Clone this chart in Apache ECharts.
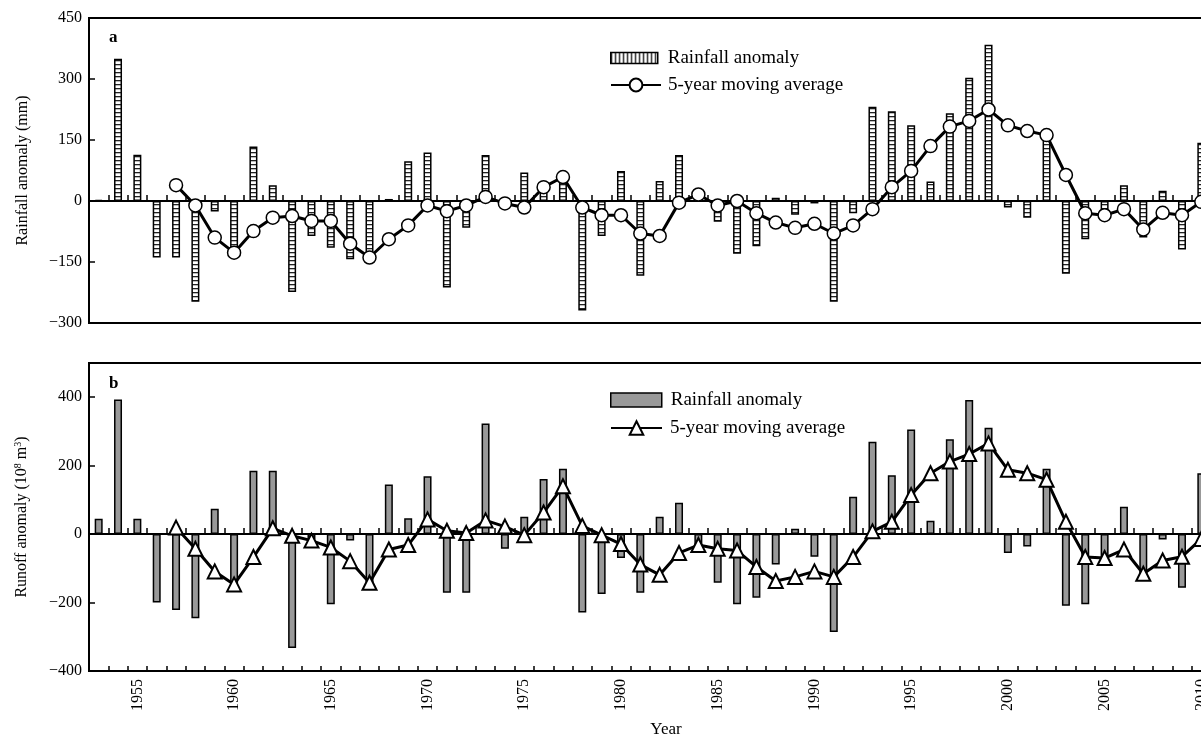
<!DOCTYPE html>
<html>
<head>
<meta charset="utf-8">
<script src="https://cdn.jsdelivr.net/npm/echarts@6/dist/echarts.min.js"></script>
<style>
html,body{margin:0;padding:0;background:#fff;}
#chart{width:1201px;height:736px;}
</style>
</head>
<body>
<div id="chart"></div>
<script>
var years = [1953,1954,1955,1956,1957,1958,1959,1960,1961,1962,1963,1964,1965,1966,1967,1968,1969,1970,1971,1972,1973,1974,1975,1976,1977,1978,1979,1980,1981,1982,1983,1984,1985,1986,1987,1988,1989,1990,1991,1992,1993,1994,1995,1996,1997,1998,1999,2000,2001,2002,2003,2004,2005,2006,2007,2008,2009,2010];

var rainfall = [3,350,114,-139,-139,-248,-26,-128,134,39,-224,-86,-115,-143,-143,5,98,119,-213,-66,113,5,70,25,74,-269,-86,74,-184,49,113,10,-51,-130,-111,8,-34,-6,-248,-30,232,221,186,48,216,303,384,-16,-41,156,-179,-94,-30,39,-90,25,-119,143];

var rainMA = [null,null,null,null,39,-11,-90,-127,-74,-41,-37,-49,-49,-105,-139,-94,-60,-11,-25,-11,10,-6,-16,34,59,-16,-35,-35,-80,-86,-4,16,-11,0,-30,-53,-66,-56,-80,-60,-20,34,74,135,183,197,225,186,172,162,64,-30,-35,-20,-70,-29,-35,-2];

var runoff = [45,393,45,-200,-222,-246,74,-145,185,185,-333,-15,-205,-19,-140,145,46,169,-171,-171,323,-43,51,161,191,-229,-175,-70,-171,51,92,-32,-142,-205,-186,-89,16,-66,-286,109,270,172,306,39,277,392,311,-55,-36,191,-209,-205,-70,80,-135,-16,-157,178];

var runoffMA = [null,null,null,null,19,-43,-109,-147,-67,17,-5,-19,-39,-79,-142,-45,-32,43,10,3,40,22,-3,63,140,24,-3,-29,-89,-119,-55,-32,-43,-48,-96,-137,-125,-109,-125,-67,8,36,114,178,212,234,265,188,178,159,36,-67,-70,-45,-116,-77,-66,-14];

var rainTicks = [-300,-150,0,150,300,450];
var runoffTicks = [-400,-200,0,200,400];

function makePattern(vertical){
  var c = document.createElement('canvas');
  c.width = 4; c.height = 4;
  var g = c.getContext('2d');
  g.fillStyle = '#fff'; g.fillRect(0,0,4,4);
  g.fillStyle = '#222';
  if (vertical) g.fillRect(0,0,1.4,4); else g.fillRect(0,0,4,1.3);
  return {image: c, repeat: 'repeat'};
}
var hPattern = makePattern(false);
var vPattern = makePattern(true);

var FONT = '"Liberation Serif","Times New Roman",serif';
function fmt(v){ return String(v).replace('-', '\u2212'); }

var chart = echarts.init(document.getElementById('chart'), null, {renderer:'canvas'});

var gridLeft = 89, gridWidth = 1122;

var catBase = {
  type: 'category',
  data: years,
  boundaryGap: true,
  axisLine: {onZero: true, lineStyle: {color:'#000', width: 2}},
  axisTick: {show: true, inside: true, length: 6, interval: 0, lineStyle:{color:'#000', width:1.5}},
  axisLabel: {show: false},
  splitLine: {show: false}
};

var legText = {fontFamily: FONT, fontSize: 19, color:'#000', lineHeight: 20};

var option = {
  backgroundColor: '#fff',
  animation: false,
  textStyle: {fontFamily: FONT, color:'#000'},
  title: [
    {text: 'a', left: 104, top: 24, textStyle:{fontFamily: FONT, fontWeight:'bold', fontSize:17, color:'#000'}},
    {text: 'b', left: 104, top: 370, textStyle:{fontFamily: FONT, fontWeight:'bold', fontSize:17, color:'#000'}}
  ],
  grid: [
    {left: gridLeft, top: 18, width: gridWidth, height: 305, show: true, borderColor:'#000', borderWidth: 2, backgroundColor:'transparent', containLabel: false, outerBoundsMode: 'none'},
    {left: gridLeft, top: 363, width: gridWidth, height: 308, show: true, borderColor:'#000', borderWidth: 2, backgroundColor:'transparent', containLabel: false, outerBoundsMode: 'none'}
  ],
  legend: [
    {data:[{name:'Rainfall anomaly', icon:'rect', itemStyle:{color: vPattern, borderColor:'#000', borderWidth:1.5}}],
     left: 605, top: 43, orient:'vertical', itemWidth: 47, itemHeight: 11,
     textStyle: Object.assign({padding:[0,0,0,5]}, legText)},
    {data:['5-year moving average '],
     left: 605, top: 70, orient:'vertical', itemWidth: 50, itemHeight: 16,
     textStyle: Object.assign({padding:[0,0,0,2]}, legText)},
    {data:[{name:'Rainfall anomaly ', icon:'rect', itemStyle:{color:'#999999', borderColor:'#000', borderWidth:1.5}}],
     left: 605, top: 385, orient:'vertical', itemWidth: 51, itemHeight: 14,
     textStyle: Object.assign({padding:[0,0,0,4]}, legText)},
    {data:['5-year moving average'],
     left: 605, top: 413, orient:'vertical', itemWidth: 51, itemHeight: 17,
     textStyle: Object.assign({padding:[0,0,0,3]}, legText)}
  ],
  xAxis: [
    Object.assign({}, catBase, {gridIndex: 0, position:'bottom'}),
    Object.assign({}, catBase, {gridIndex: 1, position:'bottom'}),
    {
      gridIndex: 1, type:'category', data: years, boundaryGap: true, position:'bottom',
      axisLine: {onZero: false, lineStyle:{color:'#000', width:2}},
      axisTick: {show:true, inside:true, length:5, interval:0, lineStyle:{color:'#000', width:1.5}},
      axisLabel: {show:true, rotate: 90, margin: 8, fontFamily: FONT, fontSize: 16, color:'#000',
        interval: function(i, v){ return Number(v) % 5 === 0; }},
      name: 'Year', nameLocation:'middle', nameGap: 50,
      nameTextStyle: {fontFamily: FONT, fontSize: 17, color:'#000', padding:[0,0,0,32]}
    }
  ],
  yAxis: [
    {
      gridIndex: 0, type:'value', min: rainTicks[0], max: rainTicks[rainTicks.length-1], interval: 150,
      axisLine:{show:true, lineStyle:{color:'#000', width:2}},
      axisTick:{show:true, inside:true, length:6, lineStyle:{color:'#000', width:1.5}},
      splitLine:{show:false},
      axisLabel:{fontFamily: FONT, fontSize: 16, color:'#000', margin: 7, formatter: function(v){ return rainTicks.indexOf(v) >= 0 ? fmt(v) : ''; }},
      name: 'Rainfall anomaly (mm)', nameLocation:'middle', nameGap: 58, nameRotate: 90,
      nameTextStyle:{fontFamily: FONT, fontSize: 16, color:'#000'}
    },
    {
      gridIndex: 1, type:'value', min: -400, max: 500, interval: 200,
      axisLine:{show:true, lineStyle:{color:'#000', width:2}},
      axisTick:{show:true, inside:true, length:6, lineStyle:{color:'#000', width:1.5}},
      splitLine:{show:false},
      axisLabel:{fontFamily: FONT, fontSize: 16, color:'#000', margin: 7, showMaxLabel: false, formatter: function(v){ return runoffTicks.indexOf(v) >= 0 ? fmt(v) : ''; }},
      name: '{n|Runoff anomaly (10}{s|8}{n| m}{s|3}{n|)}', nameLocation:'middle', nameGap: 58, nameRotate: 90,
      nameTextStyle:{fontFamily: FONT, fontSize: 16, color:'#000',
        rich:{n:{fontFamily: FONT, fontSize:16, color:'#000'}, s:{fontFamily: FONT, fontSize:10, color:'#000', verticalAlign:'top', padding:[0,0,8,0]}}}
    }
  ],
  series: [
    {
      name:'Rainfall anomaly', type:'bar', xAxisIndex:0, yAxisIndex:0, data: rainfall, barWidth: 8,
      itemStyle:{color: hPattern, borderColor:'#000', borderWidth:1.5}, z: 2
    },
    {
      name:'5-year moving average ', type:'line', xAxisIndex:0, yAxisIndex:0, data: rainMA,
      symbol:'circle', symbolSize: 13, showAllSymbol: true,
      lineStyle:{color:'#000', width:3}, itemStyle:{color:'#fff', borderColor:'#000', borderWidth:1.5}, z: 3
    },
    {
      name:'Rainfall anomaly ', type:'bar', xAxisIndex:1, yAxisIndex:1, data: runoff, barWidth: 8,
      itemStyle:{color:'#999999', borderColor:'#000', borderWidth:1.5}, z: 2
    },
    {
      name:'5-year moving average', type:'line', xAxisIndex:1, yAxisIndex:1, data: runoffMA,
      symbol:'triangle', symbolSize: 14, showAllSymbol: true,
      lineStyle:{color:'#000', width:3}, itemStyle:{color:'#fff', borderColor:'#000', borderWidth:2}, z: 3
    }
  ]
};
chart.setOption(option);
</script>
</body>
</html>
